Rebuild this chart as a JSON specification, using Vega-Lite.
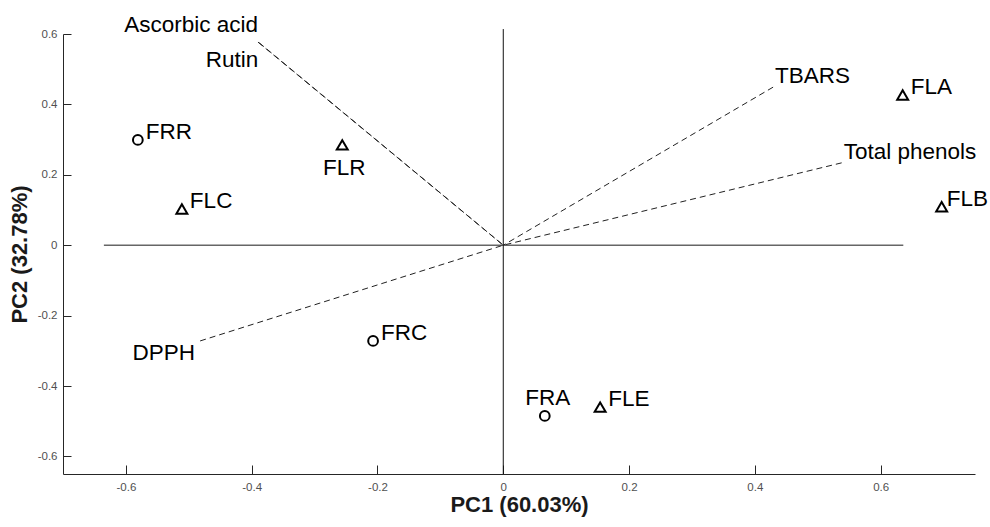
{
  "$schema": "https://vega.github.io/schema/vega-lite/v6.json",
  "width": 912,
  "height": 440,
  "autosize": {"type": "none"},
  "padding": {"left": 63, "top": 34, "right": 15, "bottom": 53},
  "background": "white",
  "config": {
    "view": {"stroke": null},
    "font": "Liberation Sans",
    "text": {"font": "Liberation Sans", "fontSize": 22.5, "color": "#000000"}
  },
  "datasets": {
    "points": [
      {"name": "FRR", "kind": "FR", "x": -0.581, "y": 0.299},
      {"name": "FLC", "kind": "FL", "x": -0.511, "y": 0.103},
      {"name": "FLR", "kind": "FL", "x": -0.256, "y": 0.285},
      {"name": "FRC", "kind": "FR", "x": -0.207, "y": -0.272},
      {"name": "FRA", "kind": "FR", "x": 0.066, "y": -0.485},
      {"name": "FLE", "kind": "FL", "x": 0.154, "y": -0.46},
      {"name": "FLA", "kind": "FL", "x": 0.635, "y": 0.427},
      {"name": "FLB", "kind": "FL", "x": 0.697, "y": 0.109}
    ],
    "loadings": [
      {"name": "Ascorbic acid", "x": -0.39, "y": 0.577},
      {"name": "Rutin", "x": -0.388, "y": 0.575},
      {"name": "TBARS", "x": 0.429, "y": 0.449},
      {"name": "Total phenols", "x": 0.538, "y": 0.234},
      {"name": "DPPH", "x": -0.482, "y": -0.272}
    ],
    "hline": [{"x": -0.635, "x2": 0.636, "y": 0}],
    "vline": [{"x": 0, "y": -0.65, "y2": 0.614}]
  },
  "layer": [
    {
      "data": {"name": "hline"},
      "mark": {"type": "rule", "color": "#666666", "strokeWidth": 1.5},
      "encoding": {
        "x": {
          "field": "x", "type": "quantitative",
          "scale": {"domain": [-0.7, 0.75], "nice": false, "zero": false},
          "axis": {
            "title": "PC1 (60.03%)",
            "values": [-0.6, -0.4, -0.2, 0, 0.2, 0.4, 0.6],
            "grid": false,
            "ticks": true,
            "tickSize": -9,
            "tickWidth": 1,
            "labelPadding": 16,
            "labelFontSize": 11.5,
            "labelColor": "#505050",
            "labelFont": "Liberation Sans",
            "domainColor": "#262626",
            "tickColor": "#262626",
            "titleFontSize": 22,
            "titleFont": "Liberation Sans",
            "titleFontWeight": "bold",
            "titleColor": "#1a1a1a",
            "titlePadding": 2,
            "labelExpr": "datum.value == 0 ? '0' : replace(format(datum.value, '.1f'), '−', '-')"
          }
        },
        "x2": {"field": "x2"},
        "y": {
          "field": "y", "type": "quantitative",
          "scale": {"domain": [-0.65, 0.6], "nice": false, "zero": false},
          "axis": {
            "title": "PC2 (32.78%)",
            "values": [-0.6, -0.4, -0.2, 0, 0.2, 0.4, 0.6],
            "grid": false,
            "ticks": true,
            "tickSize": -8,
            "tickWidth": 1,
            "labelPadding": 14,
            "labelFontSize": 11.5,
            "labelColor": "#505050",
            "labelFont": "Liberation Sans",
            "domainColor": "#262626",
            "tickColor": "#262626",
            "titleFontSize": 22,
            "titleFont": "Liberation Sans",
            "titleFontWeight": "bold",
            "titleColor": "#1a1a1a",
            "titlePadding": 6,
            "labelExpr": "datum.value == 0 ? '0' : replace(format(datum.value, '.1f'), '−', '-')"
          }
        }
      }
    },
    {
      "data": {"name": "vline"},
      "mark": {"type": "rule", "color": "#111111", "strokeWidth": 1},
      "encoding": {
        "x": {"field": "x", "type": "quantitative", "scale": {"domain": [-0.7, 0.75], "nice": false, "zero": false}},
        "y": {"field": "y", "type": "quantitative", "scale": {"domain": [-0.65, 0.6], "nice": false, "zero": false}},
        "y2": {"field": "y2"}
      }
    },
    {
      "data": {"name": "loadings"},
      "mark": {"type": "rule", "color": "#222222", "strokeWidth": 1, "strokeDash": [6, 4]},
      "encoding": {
        "x": {"field": "x", "type": "quantitative", "scale": {"domain": [-0.7, 0.75], "nice": false, "zero": false}},
        "y": {"field": "y", "type": "quantitative", "scale": {"domain": [-0.65, 0.6], "nice": false, "zero": false}},
        "x2": {"datum": 0},
        "y2": {"datum": 0}
      }
    },
    {
      "data": {"name": "loadings"},
      "transform": [{"filter": {"field": "name", "oneOf": ["TBARS", "Total phenols"]}}],
      "mark": {"type": "text", "align": "left", "baseline": "alphabetic", "dx": 2, "dy": -4},
      "encoding": {
        "x": {"field": "x", "type": "quantitative", "scale": {"domain": [-0.7, 0.75], "nice": false, "zero": false}},
        "y": {"field": "y", "type": "quantitative", "scale": {"domain": [-0.65, 0.6], "nice": false, "zero": false}},
        "text": {"field": "name"}
      }
    },
    {
      "data": {"name": "loadings"},
      "transform": [{"filter": {"field": "name", "equal": "Ascorbic acid"}}],
      "mark": {"type": "text", "align": "right", "baseline": "alphabetic", "dx": 0, "dy": -10},
      "encoding": {
        "x": {"field": "x", "type": "quantitative", "scale": {"domain": [-0.7, 0.75], "nice": false, "zero": false}},
        "y": {"field": "y", "type": "quantitative", "scale": {"domain": [-0.65, 0.6], "nice": false, "zero": false}},
        "text": {"field": "name"}
      }
    },
    {
      "data": {"name": "loadings"},
      "transform": [{"filter": {"field": "name", "equal": "Rutin"}}],
      "mark": {"type": "text", "align": "right", "baseline": "alphabetic", "dx": -1, "dy": 24},
      "encoding": {
        "x": {"field": "x", "type": "quantitative", "scale": {"domain": [-0.7, 0.75], "nice": false, "zero": false}},
        "y": {"field": "y", "type": "quantitative", "scale": {"domain": [-0.65, 0.6], "nice": false, "zero": false}},
        "text": {"field": "name"}
      }
    },
    {
      "data": {"name": "loadings"},
      "transform": [{"filter": {"field": "name", "equal": "DPPH"}}],
      "mark": {"type": "text", "align": "right", "baseline": "alphabetic", "dx": -5, "dy": 19},
      "encoding": {
        "x": {"field": "x", "type": "quantitative", "scale": {"domain": [-0.7, 0.75], "nice": false, "zero": false}},
        "y": {"field": "y", "type": "quantitative", "scale": {"domain": [-0.65, 0.6], "nice": false, "zero": false}},
        "text": {"field": "name"}
      }
    },
    {
      "data": {"name": "points"},
      "mark": {"type": "point", "filled": false, "stroke": "#000000", "strokeWidth": 2, "opacity": 1},
      "encoding": {
        "x": {"field": "x", "type": "quantitative", "scale": {"domain": [-0.7, 0.75], "nice": false, "zero": false}},
        "y": {"field": "y", "type": "quantitative", "scale": {"domain": [-0.65, 0.6], "nice": false, "zero": false}},
        "shape": {"field": "kind", "type": "nominal", "scale": {"domain": ["FR", "FL"], "range": ["circle", "triangle-up"]}, "legend": null},
        "size": {"field": "kind", "type": "nominal", "scale": {"domain": ["FR", "FL"], "range": [95, 120]}, "legend": null}
      }
    },
    {
      "data": {"name": "points"},
      "transform": [{"filter": {"field": "name", "oneOf": ["FRR", "FLC", "FRC", "FLE", "FLA"]}}],
      "mark": {"type": "text", "align": "left", "baseline": "alphabetic", "dx": 8, "dy": -1},
      "encoding": {
        "x": {"field": "x", "type": "quantitative", "scale": {"domain": [-0.7, 0.75], "nice": false, "zero": false}},
        "y": {"field": "y", "type": "quantitative", "scale": {"domain": [-0.65, 0.6], "nice": false, "zero": false}},
        "text": {"field": "name"}
      }
    },
    {
      "data": {"name": "points"},
      "transform": [{"filter": {"field": "name", "equal": "FLB"}}],
      "mark": {"type": "text", "align": "left", "baseline": "alphabetic", "dx": 5, "dy": -1},
      "encoding": {
        "x": {"field": "x", "type": "quantitative", "scale": {"domain": [-0.7, 0.75], "nice": false, "zero": false}},
        "y": {"field": "y", "type": "quantitative", "scale": {"domain": [-0.65, 0.6], "nice": false, "zero": false}},
        "text": {"field": "name"}
      }
    },
    {
      "data": {"name": "points"},
      "transform": [{"filter": {"field": "name", "equal": "FLR"}}],
      "mark": {"type": "text", "align": "center", "baseline": "alphabetic", "dx": 2, "dy": 30},
      "encoding": {
        "x": {"field": "x", "type": "quantitative", "scale": {"domain": [-0.7, 0.75], "nice": false, "zero": false}},
        "y": {"field": "y", "type": "quantitative", "scale": {"domain": [-0.65, 0.6], "nice": false, "zero": false}},
        "text": {"field": "name"}
      }
    },
    {
      "data": {"name": "points"},
      "transform": [{"filter": {"field": "name", "equal": "FRA"}}],
      "mark": {"type": "text", "align": "center", "baseline": "alphabetic", "dx": 3, "dy": -11},
      "encoding": {
        "x": {"field": "x", "type": "quantitative", "scale": {"domain": [-0.7, 0.75], "nice": false, "zero": false}},
        "y": {"field": "y", "type": "quantitative", "scale": {"domain": [-0.65, 0.6], "nice": false, "zero": false}},
        "text": {"field": "name"}
      }
    }
  ]
}
